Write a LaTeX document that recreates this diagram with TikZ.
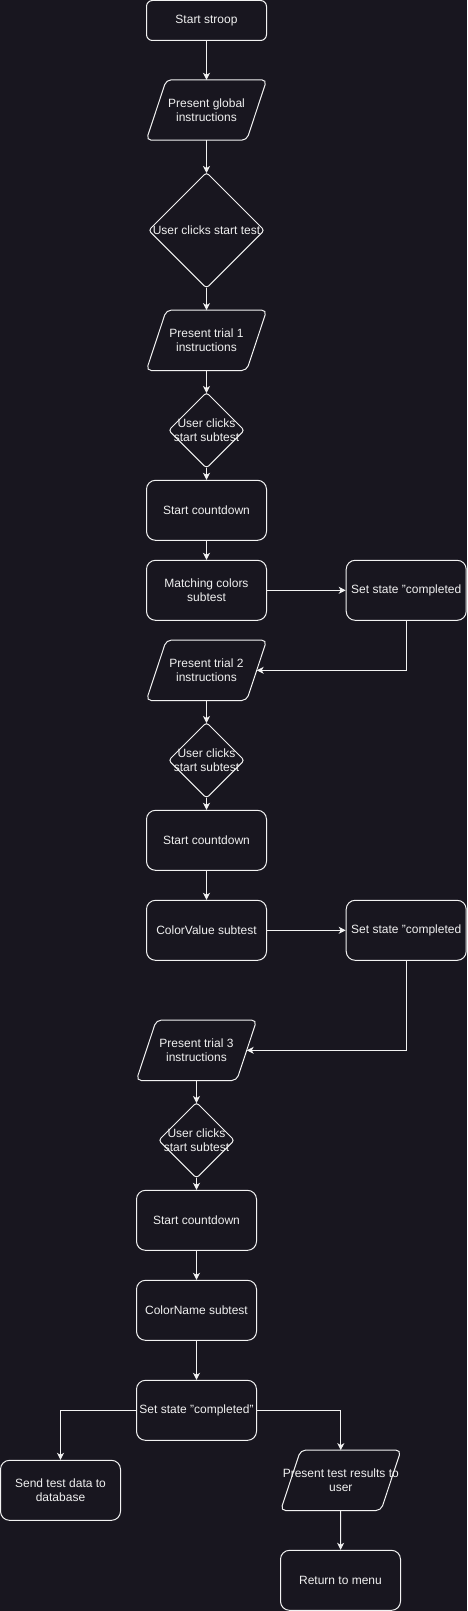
\documentclass[tikz,border=0pt]{standalone}
\usepackage{fontspec}
\setmainfont{Liberation Sans}
\usetikzlibrary{shapes.geometric,arrows.meta,calc}
\definecolor{bg}{HTML}{18161F}
\definecolor{ln}{HTML}{F2F2F2}
\definecolor{tx}{HTML}{F0F0F0}
\newcommand\paradraw[1]{\draw[ln, line width=1pt, rounded corners=5pt]
  ($(#1.north west)+(20,0)$) -- (#1.north east) -- ($(#1.south east)+(-20,0)$)
  -- (#1.south west) -- cycle;
  \coordinate (#1r) at ($(#1.east)+(-10,0)$);}
\begin{document}
\begin{tikzpicture}[x=1pt,y=-1pt,
  font=\fontsize{12}{14.4}\selectfont,
  box/.style={draw=ln, line width=1pt, rounded corners=9pt, minimum width=120pt,
    minimum height=60pt, inner sep=0pt, align=center, text=tx},
  para/.style={minimum width=120pt, minimum height=60pt, inner sep=0pt,
    align=center, text=tx},
  dia/.style 2 args={draw=ln, line width=1pt, diamond, aspect=1, minimum width=#1,
    minimum height=#1, inner sep=1pt, rounded corners=3pt,
    label={[text=tx, align=center]center:#2}},
  arr/.style={draw=ln, line width=1pt, -{Stealth[length=7pt,width=7pt,inset=2pt]}},
  todia/.style={arr, shorten >=-1.2pt},
  fromdia/.style={arr, shorten <=-1.2pt}]
\fill[bg] (0,0) rectangle (467,1611);
\useasboundingbox (0,0) rectangle (467,1611);

\node[box, rounded corners=6pt, minimum height=40pt] (start) at (206.5,20.5) {Start stroop};
\node[para] (pglobal) at (206.5,110) {Present global\\instructions};
\node[dia={116pt}{User clicks start test}] (dtest) at (206.5,230.3) {};
\node[para] (p1) at (206.5,340.3) {Present trial 1\\instructions};
\node[dia={76pt}{User clicks\\start subtest}] (d1) at (206.5,430.3) {};
\node[box] (cd1) at (206.5,510.3) {Start countdown};
\node[box] (mc) at (206.5,590.3) {Matching colors\\subtest};
\node[box] (ss1) at (406.2,590.3) {Set state "completed};
\node[para] (p2) at (206.5,670.3) {Present trial 2\\instructions};
\node[dia={76pt}{User clicks\\start subtest}] (d2) at (206.5,760.3) {};
\node[box] (cd2) at (206.5,840.3) {Start countdown};
\node[box] (cv) at (206.5,930.3) {ColorValue subtest};
\node[box] (ss2) at (406.2,930.3) {Set state "completed};
\node[para] (p3) at (196.5,1050.3) {Present trial 3\\instructions};
\node[dia={76pt}{User clicks\\start subtest}] (d3) at (196.5,1140.3) {};
\node[box] (cd3) at (196.5,1220.3) {Start countdown};
\node[box] (cn) at (196.5,1310.3) {ColorName subtest};
\node[box] (ssf) at (196.5,1410.3) {Set state "completed"};
\node[box] (send) at (60.5,1490.3) {Send test data to\\database};
\node[para] (pres) at (340.8,1480.3) {Present test results to\\user};
\node[box] (menu) at (340.5,1580.3) {Return to menu};

\paradraw{pglobal}
\paradraw{p1}
\paradraw{p2}
\paradraw{p3}
\paradraw{pres}

\draw[arr] (start) -- (pglobal);
\draw[todia] (pglobal) -- (dtest);
\draw[fromdia] (dtest) -- (p1);
\draw[todia] (p1) -- (d1);
\draw[fromdia] (d1) -- (cd1);
\draw[arr] (cd1) -- (mc);
\draw[arr] (mc) -- (ss1);
\draw[arr] (ss1.south) |- (p2r);
\draw[todia] (p2) -- (d2);
\draw[fromdia] (d2) -- (cd2);
\draw[arr] (cd2) -- (cv);
\draw[arr] (cv) -- (ss2);
\draw[arr] (ss2.south) |- (p3r);
\draw[todia] (p3) -- (d3);
\draw[fromdia] (d3) -- (cd3);
\draw[arr] (cd3) -- (cn);
\draw[arr] (cn) -- (ssf);
\draw[arr] (ssf.west) -| (send.north);
\draw[arr] (ssf.east) -| (pres.north);
\draw[arr] (pres) -- (menu);
\end{tikzpicture}
\end{document}
